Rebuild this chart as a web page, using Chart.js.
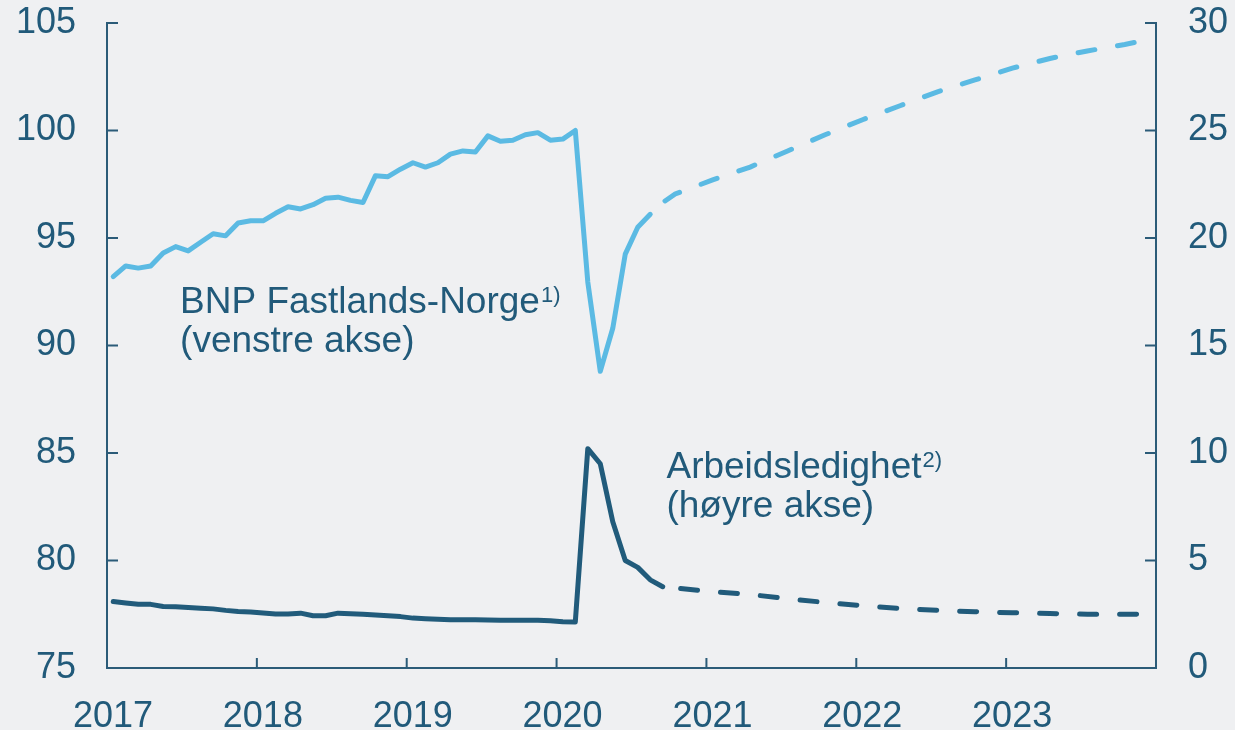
<!DOCTYPE html>
<html lang="no">
<head>
    <meta charset="UTF-8">
    <title>BNP Fastlands-Norge og arbeidsledighet</title>
    <style>
        body {
            margin: 0;
            padding: 0;
            background-color: #eff0f2;
        }
        .chart-box {
            width: 1235px;
            height: 730px;
        }
    </style>
    <script src="https://cdn.jsdelivr.net/npm/chart.js"></script>
</head>
<body>

<div class="chart-box">
    <canvas id="bnpChart" width="1235" height="730"></canvas>
</div>

<script>
    // Month index: 0 = Jan 2017 (monthly values, plotted mid-month)
    const yearLabels = ['2017', '2018', '2019', '2020', '2021', '2022', '2023'];

    // BNP Fastlands-Norge, actual, Jan 2017 - Aug 2020 (left axis)
    const bnpActual = [
        93.2, 93.7, 93.6, 93.7, 94.3, 94.6, 94.4, 94.8, 95.2, 95.1, 95.7, 95.8,
        95.8, 96.15, 96.45, 96.35, 96.55, 96.85, 96.9, 96.75, 96.65, 97.9, 97.85, 98.2,
        98.5, 98.3, 98.5, 98.9, 99.05, 99.0, 99.75, 99.5, 99.55, 99.8, 99.9, 99.55,
        99.6, 100.0, 92.95, 88.8, 90.8, 94.25, 95.5, 96.1
    ];
    // BNP forecast (dashed), read at these months
    const bnpFcMonths = [43, 44, 45, 48, 51, 54, 57, 60, 63, 66, 69, 72, 75, 78, 81, 83];
    const bnpForecast = [96.1, 96.65, 97.05, 97.7, 98.3, 99.05, 99.8, 100.5, 101.15, 101.8, 102.35, 102.9, 103.35, 103.7, 104.0, 104.25];

    // Arbeidsledighet, actual, Jan 2017 - Sep 2020 (right axis)
    const ledigActual = [
        3.09, 3.02, 2.96, 2.96, 2.86, 2.85, 2.81, 2.78, 2.75, 2.68, 2.63, 2.61,
        2.56, 2.51, 2.51, 2.55, 2.43, 2.43, 2.55, 2.52, 2.50, 2.47, 2.43, 2.39,
        2.32, 2.29, 2.27, 2.24, 2.24, 2.24, 2.23, 2.22, 2.22, 2.22, 2.22, 2.20,
        2.15, 2.14, 10.2, 9.5, 6.8, 5.0, 4.68, 4.1, 3.78
    ];
    const ledigFcMonths = [44, 45, 48, 51, 54, 57, 60, 63, 66, 69, 72, 75, 78, 81, 83];
    const ledigForecast = [3.78, 3.72, 3.55, 3.42, 3.22, 3.05, 2.9, 2.77, 2.68, 2.62, 2.57, 2.53, 2.5, 2.5, 2.49];

    const lightBlue = '#5bbae3';
    const darkBlue = '#215b7b';
    const axisColor = '#2b5b78';
    const textColor = '#215a7a';
    const fontFamily = '"Liberation Sans", Arial, sans-serif';

    // plot monthly points in the middle of each month
    const actualPoints = arr => arr.map((v, i) => ({ x: i + 0.5, y: v }));
    const fcPoints = (months, arr) => months.map((m, i) => ({ x: m + 0.5, y: arr[i] }));

    // keep the plot area fixed: no extra room for overflowing tick labels
    const noOverflow = s => {
        s.paddingTop = 0;
        s.paddingBottom = 0;
        s.paddingLeft = 0;
        s.paddingRight = 0;
    };

    // inward tick marks on all three axes
    const innerTicks = {
        id: 'innerTicks',
        beforeDatasetsDraw(chart) {
            const ctx = chart.ctx;
            const { x, yL, yR } = chart.scales;
            ctx.save();
            ctx.strokeStyle = axisColor;
            ctx.lineWidth = 2;
            ctx.beginPath();
            x.ticks.forEach(t => {
                if (t.value <= 0 || t.value >= 84) return;
                const px = x.getPixelForValue(t.value);
                ctx.moveTo(px, x.top);
                ctx.lineTo(px, x.top - 10);
            });
            yL.ticks.forEach(t => {
                if (t.value <= 75) return;
                const py = yL.getPixelForValue(t.value);
                ctx.moveTo(yL.right, py);
                ctx.lineTo(yL.right + 11, py);
            });
            yR.ticks.forEach(t => {
                if (t.value <= 0) return;
                const py = yR.getPixelForValue(t.value);
                ctx.moveTo(yR.left, py);
                ctx.lineTo(yR.left - 11, py);
            });
            ctx.stroke();
            ctx.restore();
        }
    };

    // series labels, anchored to axis values
    const seriesLabels = {
        id: 'seriesLabels',
        afterDatasetsDraw(chart) {
            const ctx = chart.ctx;
            const { x, yL, yR } = chart.scales;
            ctx.save();
            ctx.fillStyle = textColor;
            ctx.textBaseline = 'alphabetic';
            ctx.textAlign = 'left';

            function label(px, py, main, sup, second) {
                ctx.font = '37px ' + fontFamily;
                ctx.fillText(main, px, py);
                const w = ctx.measureText(main).width;
                ctx.fillText(second, px, py + 39);
                ctx.font = '22px ' + fontFamily;
                ctx.fillText(sup, px + w + 1, py - 11);
            }

            label(x.getPixelForValue(5.85), yL.getPixelForValue(91.5),
                'BNP Fastlands-Norge', '1)', '(venstre akse)');
            label(x.getPixelForValue(44.8), yR.getPixelForValue(8.85),
                'Arbeidsledighet', '2)', '(høyre akse)');
            ctx.restore();
        }
    };

    const ctx = document.getElementById('bnpChart').getContext('2d');
    const bnpChart = new Chart(ctx, {
        type: 'line',
        data: {
            datasets: [
                {
                    label: 'BNP Fastlands-Norge',
                    data: actualPoints(bnpActual),
                    yAxisID: 'yL',
                    borderColor: lightBlue,
                    borderWidth: 5,
                    borderJoinStyle: 'round',
                    borderCapStyle: 'round'
                },
                {
                    label: 'BNP Fastlands-Norge, anslag',
                    data: fcPoints(bnpFcMonths, bnpForecast),
                    yAxisID: 'yL',
                    borderColor: lightBlue,
                    borderWidth: 5,
                    borderDash: [17, 23],
                    borderDashOffset: -20,
                    borderCapStyle: 'round'
                },
                {
                    label: 'Arbeidsledighet',
                    data: actualPoints(ledigActual),
                    yAxisID: 'yR',
                    borderColor: darkBlue,
                    borderWidth: 5,
                    borderJoinStyle: 'round',
                    borderCapStyle: 'round'
                },
                {
                    label: 'Arbeidsledighet, anslag',
                    data: fcPoints(ledigFcMonths, ledigForecast),
                    yAxisID: 'yR',
                    borderColor: darkBlue,
                    borderWidth: 5,
                    borderDash: [17, 23],
                    borderDashOffset: -18,
                    borderCapStyle: 'round'
                }
            ]
        },
        options: {
            responsive: false,
            animation: false,
            events: [],
            elements: {
                point: { radius: 0 },
                line: { tension: 0, fill: false }
            },
            layout: { padding: { top: 23, left: 0, right: 0, bottom: 0 } },
            plugins: {
                legend: { display: false },
                tooltip: { enabled: false }
            },
            scales: {
                x: {
                    type: 'linear',
                    min: 0,
                    max: 84,
                    afterFit: s => { s.height = 62; noOverflow(s); },
                    grid: { display: false, drawTicks: false },
                    border: { display: true, color: axisColor, width: 2 },
                    ticks: {
                        stepSize: 12,
                        autoSkip: false,
                        maxRotation: 0,
                        labelOffset: 6,
                        padding: 27,
                        color: textColor,
                        font: { family: fontFamily, size: 36 },
                        callback: v => (v % 12 === 0 && v / 12 < yearLabels.length) ? yearLabels[v / 12] : ''
                    }
                },
                yL: {
                    position: 'left',
                    min: 75,
                    max: 105,
                    afterFit: s => { s.width = 107; noOverflow(s); },
                    grid: { display: false, drawTicks: false },
                    border: { display: true, color: axisColor, width: 2 },
                    ticks: {
                        stepSize: 5,
                        padding: 31,
                        color: textColor,
                        font: { family: fontFamily, size: 36 }
                    }
                },
                yR: {
                    position: 'right',
                    min: 0,
                    max: 30,
                    afterFit: s => { s.width = 79; noOverflow(s); },
                    grid: { display: false, drawTicks: false },
                    border: { display: true, color: axisColor, width: 2 },
                    ticks: {
                        stepSize: 5,
                        padding: 32,
                        color: textColor,
                        font: { family: fontFamily, size: 36 }
                    }
                }
            }
        },
        plugins: [innerTicks, seriesLabels]
    });
</script>

</body>
</html>
